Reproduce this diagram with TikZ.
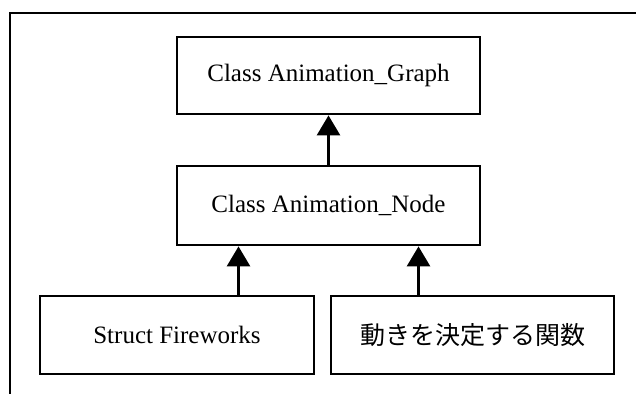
\documentclass[tikz,border=0pt]{standalone}
\usepackage{fontspec}
\setmainfont{Liberation Serif}
\newfontfamily\jpfont{Noto Sans CJK JP}
\usetikzlibrary{arrows.meta}

\begin{document}
\begin{tikzpicture}[x=1pt, y=-1pt,
		box/.style = {draw, line width = 2.8pt, inner sep = 0pt, font = \fontsize{25}{30}\selectfont},
		arr/.style = {line width = 2.8pt, -{Triangle[width = 23pt, length = 20pt]}}]
	\useasboundingbox (0, 0) rectangle (636, 394);
	% frame, open at the right and at the bottom
	\draw[line width = 2.8pt] (636, 13) -- (10, 13) -- (10, 394);

	\node[box, minimum width = 303pt, minimum height = 77pt] (graph) at (328.5, 75.5) {Class Animation\_Graph};
	\node[box, minimum width = 303pt, minimum height = 79pt] (anode) at (328.5, 205.5) {Class Animation\_Node};
	\node[box, minimum width = 274pt, minimum height = 78pt] (fw) at (177, 335) {Struct Fireworks};
	\node[box, minimum width = 283pt, minimum height = 78pt] (func) at (472.5, 335) {\jpfont 動きを決定する関数};

	\draw[arr] (graph.south |- anode.north) -- (graph.south);
	\draw[arr] ([xshift = -90pt]anode.south |- fw.north) -- ([xshift = -90pt]anode.south);
	\draw[arr] ([xshift = 90pt]anode.south |- func.north) -- ([xshift = 90pt]anode.south);
\end{tikzpicture}
\end{document}
